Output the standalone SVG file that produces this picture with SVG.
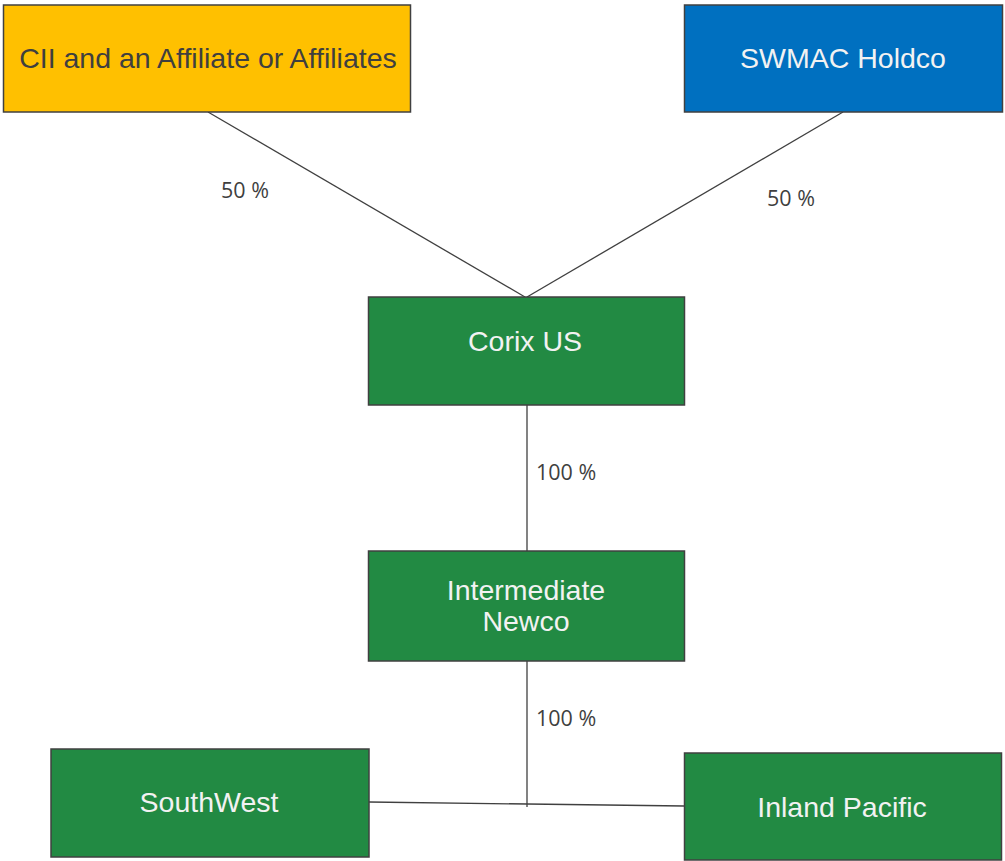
<svg xmlns="http://www.w3.org/2000/svg" width="1005" height="861" viewBox="0 0 1005 861">
<style>
.box{stroke:#404040;stroke-width:1.5}
.yellow{fill:#FFC000}
.blue{fill:#0070C0}
.green{fill:#228A43}
.t{font-family:"Liberation Sans",Arial,sans-serif;font-size:28.5px;text-anchor:middle}
.dark{fill:#3F3F3F}
.light{fill:#F2F2F2}
.conn{stroke:#404040;stroke-width:1.3;fill:none}
.lbl{font-family:"Open Sans","DejaVu Sans",sans-serif;font-size:21.5px;fill:#3F3F3F}
</style>
<rect width="1005" height="861" fill="#FFFFFF"/>
<g id="connectors">
<line class="conn" x1="208" y1="112" x2="525" y2="297"/>
<line class="conn" x1="843" y1="112" x2="527" y2="297"/>
<line class="conn" x1="527" y1="405" x2="527" y2="551"/>
<line class="conn" x1="527" y1="661" x2="527" y2="807"/>
<line class="conn" x1="369" y1="802" x2="684" y2="806"/>
<text class="lbl" x="221" y="198">50 %</text>
<text class="lbl" x="767" y="206">50 %</text>
<text class="lbl" x="536" y="480">100 %</text>
<text class="lbl" x="536" y="726">100 %</text>
</g>
<g id="cii">
<rect class="box yellow" x="3.5" y="5" width="407" height="107"/>
<text class="t dark" x="208" y="68">CII and an Affiliate or Affiliates</text>
</g>
<g id="swmac">
<rect class="box blue" x="684.5" y="5" width="318" height="107"/>
<text class="t light" x="843" y="68">SWMAC Holdco</text>
</g>
<g id="corix">
<rect class="box green" x="368.5" y="297" width="316" height="108"/>
<text class="t light" x="525" y="351">Corix US</text>
</g>
<g id="newco">
<rect class="box green" x="368.5" y="551" width="316" height="110"/>
<text class="t light" x="526" y="600">Intermediate</text>
<text class="t light" x="526" y="631">Newco</text>
</g>
<g id="southwest">
<rect class="box green" x="51" y="749" width="318" height="108"/>
<text class="t light" x="209" y="812">SouthWest</text>
</g>
<g id="inland">
<rect class="box green" x="684.5" y="753" width="317" height="107"/>
<text class="t light" x="842" y="817">Inland Pacific</text>
</g>
</svg>
